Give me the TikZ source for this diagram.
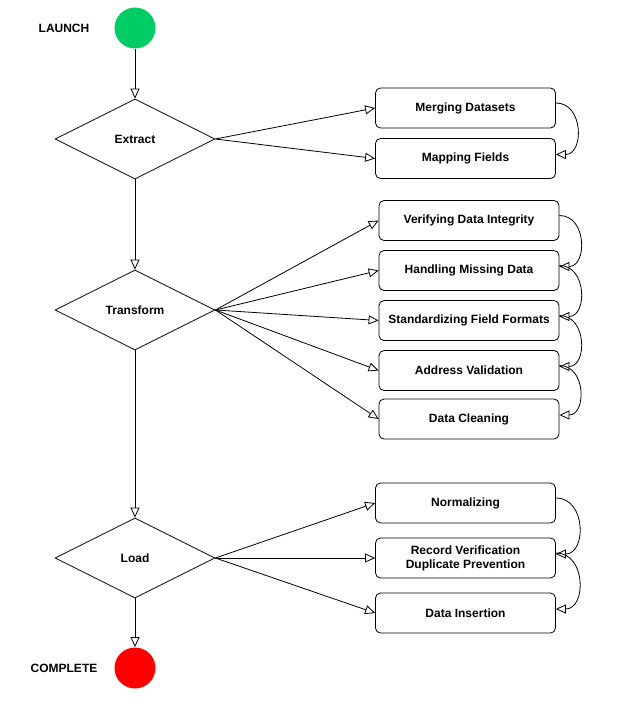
\documentclass[tikz,border=0pt]{standalone}
\usepackage{fontspec}
\setmainfont{Liberation Sans}
\usetikzlibrary{arrows.meta,shapes.geometric}
\definecolor{startgreen}{RGB}{0,204,102}
\definecolor{stopred}{RGB}{255,0,0}

\begin{document}
\begin{tikzpicture}[x=1pt,y=-1pt,
    font=\fontsize{12}{14}\selectfont\bfseries,
    line width=0.8pt,
    flow/.style={-{Triangle[open,length=10pt,width=9pt]}},
    decide/.style={diamond,draw,aspect=2,minimum width=160pt,minimum height=80pt,inner sep=0pt},
    stepbox/.style={draw,rounded corners=5pt,minimum width=180pt,minimum height=40pt,inner sep=0pt,align=center},
    ends/.style={circle,minimum size=41pt,inner sep=0pt}]
    %%Background
    \useasboundingbox (0,0) rectangle (620,706);

    %% Main line
    \node[ends,fill=startgreen] (launch) at (135,28) {};
    \node (launchtext) at (64,28) {LAUNCH};
    \node[decide] (extract) at (135,139) {Extract};
    \node[decide] (transform) at (135,310) {Transform};
    \node[decide] (load) at (135,558) {Load};
    \node[ends,fill=stopred] (complete) at (135,668) {};
    \node (completetext) at (64,668) {COMPLETE};

    \draw[flow] (launch) -- (extract.north);
    \draw[flow] (extract.south) -- (transform.north);
    \draw[flow] (transform.south) -- (load.north);
    \draw[flow] (load.south) -- (complete);

    %% Steps
    \node[stepbox] (merge) at (465.5,108) {Merging Datasets};
    \node[stepbox] (mapfields) at (465.5,158.5) {Mapping Fields};
    \node[stepbox] (verify) at (469,220.5) {Verifying Data Integrity};
    \node[stepbox] (missing) at (469,270.5) {Handling Missing Data};
    \node[stepbox] (standard) at (469,320.5) {Standardizing Field Formats};
    \node[stepbox] (address) at (469,370.5) {Address Validation};
    \node[stepbox] (cleaning) at (469,419) {Data Cleaning};
    \node[stepbox] (normal) at (465.5,503) {Normalizing};
    \node[stepbox] (record) at (465.5,558) {Record Verification\\Duplicate Prevention};
    \node[stepbox] (insert) at (465.5,613) {Data Insertion};

    \foreach \b in {merge,mapfields}
    {
    \draw[flow] (extract.east) -- (\b.west);
    }
    \foreach \b in {verify,missing,standard,address,cleaning}
    {
    \draw[flow] (transform.east) -- (\b.west);
    }
    \foreach \b in {normal,record,insert}
    {
    \draw[flow] (load.east) -- (\b.west);
    }

    %% Curved links
    \foreach \a/\b in {merge/mapfields,verify/missing,missing/standard,standard/address,address/cleaning,normal/record,record/insert}
    {
    \draw[flow] ([yshift=5pt]\a.east) to[out=0,in=0,looseness=1.4] ([yshift=4pt]\b.east);
    }

\end{tikzpicture}
\end{document}
